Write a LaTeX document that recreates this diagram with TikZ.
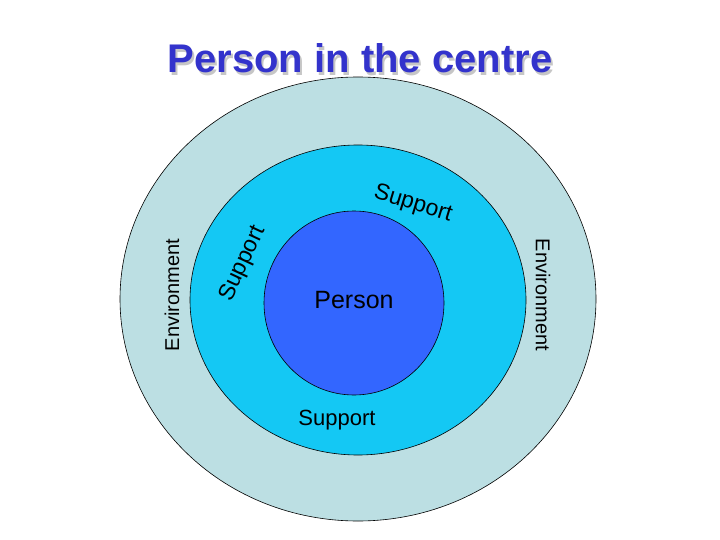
\documentclass[tikz,border=0pt]{standalone}
\usepackage{fontspec}
\setmainfont{Liberation Sans}
\begin{document}
\begin{tikzpicture}[x=1pt,y=-1pt,
  ring/.style={draw=black,line width=0.6pt},
  lbl/.style={font=\fontsize{20}{24}\selectfont}]
\definecolor{envc}{HTML}{BCDFE3}
\definecolor{supc}{HTML}{14C8F4}
\definecolor{perc}{HTML}{3366FF}
\definecolor{titc}{HTML}{3333CC}
\useasboundingbox (0,0) rectangle (720,540);
\fill[white] (0,0) rectangle (720,540);
\node[font=\bfseries\fontsize{40}{46}\selectfont,text=gray!45] (tsh) at (362,61) {Person in the centre};
\node[font=\bfseries\fontsize{40}{46}\selectfont,text=titc] (title) at (360,58) {Person in the centre};
\draw[ring,fill=envc] (358,299) ellipse [x radius=238,y radius=222];
\draw[ring,fill=supc] (358,300) ellipse [x radius=168,y radius=155];
\draw[ring,fill=perc] (354,303) ellipse [x radius=90,y radius=92];
\node[lbl,font=\fontsize{25}{30}\selectfont] (person) at (354,300) {Person};
\node[lbl,font=\fontsize{22}{26}\selectfont] (supb) at (337,420) {Support};
\node[rotate=65,font=\fontsize{23}{26}\selectfont] (supl) at (243,264) {Support};
\node[rotate=-17,font=\fontsize{23}{26}\selectfont] (supt) at (413,204) {Support};
\node[lbl,rotate=90] (envl) at (172,295) {Environment};
\node[lbl,rotate=-90] (envr) at (543,295) {Environment};
\end{tikzpicture}
\end{document}
